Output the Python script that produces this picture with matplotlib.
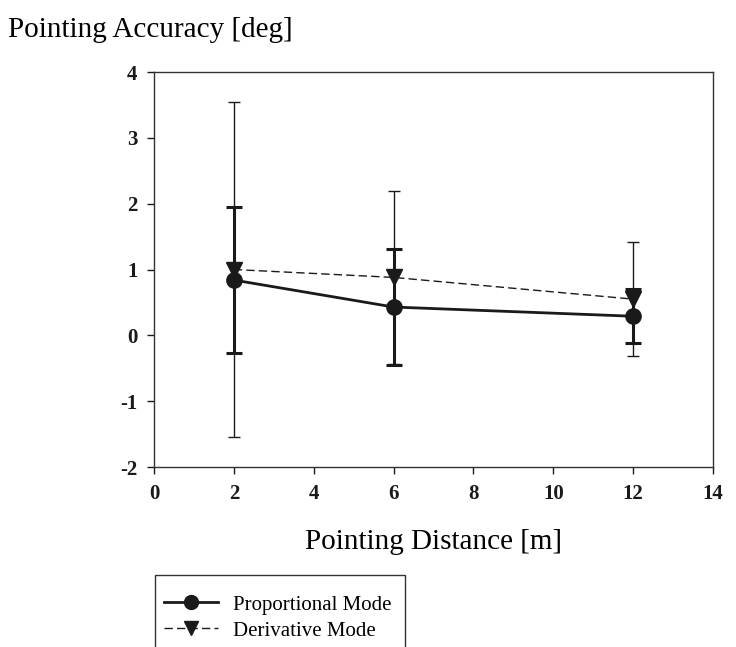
import numpy as np
import matplotlib
matplotlib.use("Agg")
import matplotlib.pyplot as plt
from matplotlib.lines import Line2D
from matplotlib.patches import Rectangle

plt.rcParams["font.family"] = ["Liberation Serif", "DejaVu Serif"]
plt.rcParams["axes.unicode_minus"] = False

# data
distance = [2, 6, 12]
prop_mean = [0.84, 0.43, 0.29]
prop_err = [1.11, 0.88, 0.41]
deriv_mean = [1.00, 0.88, 0.55]
deriv_err = [2.55, 1.32, 0.87]

INK = "#1a1a1a"
W, H = 736, 647

fig = plt.figure(figsize=(7.36, 6.47), dpi=100)
ax = fig.add_axes([0.2092, 0.2782, 0.7595, 0.6105])

ax.errorbar(distance, deriv_mean, yerr=deriv_err, color=INK, lw=1.0,
            ls=(0, (6, 3)), marker="v", ms=11, capsize=4.5, elinewidth=1.0,
            capthick=1.0, zorder=3)
ax.errorbar(distance, prop_mean, yerr=prop_err, color=INK, lw=2.0,
            ls="-", marker="o", ms=11, capsize=6, elinewidth=2.2,
            capthick=2.2, zorder=4)

ax.set_xlim(0, 14)
ax.set_ylim(-2, 4)
ax.set_xticks(np.arange(0, 15, 2))
ax.set_yticks(np.arange(-2, 5, 1))
for lab in ax.get_xticklabels() + ax.get_yticklabels():
    lab.set_fontweight("bold")
ax.tick_params(direction="out", length=5, width=1, labelsize=15, colors=INK,
               pad=7)
for s in ax.spines.values():
    s.set_linewidth(1.0)
    s.set_color("#333333")

ax.set_xlabel("Pointing Distance [m]", fontsize=21, labelpad=18)
fig.text(8 / W, 1 - 30 / H, "Pointing Accuracy [deg]", fontsize=21,
         va="center", ha="left")

# legend box runs off the bottom of the image, as in the original
fig.patches.append(Rectangle((155 / W, -0.02), 250 / W, 0.02 + (H - 575) / H,
                             transform=fig.transFigure, fill=False,
                             edgecolor="#333333", lw=1.0))
handles = [Line2D([], [], color=INK, lw=2.0, marker="o", ms=10),
           Line2D([], [], color=INK, lw=1.0, ls=(0, (6, 3)), marker="v", ms=10)]
labels = ["Proportional Mode", "Derivative Mode"]
leg = fig.legend(handles, labels, loc="upper left",
                 bbox_to_anchor=(160 / W, 1 - 591 / H), borderaxespad=0,
                 frameon=False, prop={"size": 15}, handlelength=2.6,
                 borderpad=0.2, labelspacing=0.3, handletextpad=0.7)

fig.savefig("out.png", dpi=100)
